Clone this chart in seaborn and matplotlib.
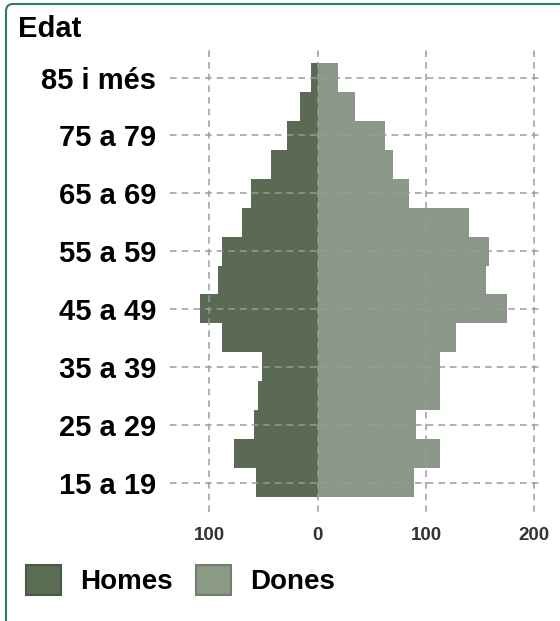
import matplotlib
matplotlib.use("Agg")
import matplotlib.pyplot as plt
from matplotlib.patches import FancyBboxPatch, Patch
import pandas as pd
import seaborn as sns

# Age groups, top of the pyramid first
edats = ["85 i més", "80 a 84", "75 a 79", "70 a 74", "65 a 69", "60 a 64",
         "55 a 59", "50 a 54", "45 a 49", "40 a 44", "35 a 39", "30 a 34",
         "25 a 29", "20 a 24", "15 a 19"]
homes = [6, 16, 28, 43, 61, 70, 88, 92, 108, 88, 51, 55, 59, 77, 57]
dones = [19, 35, 62, 70, 84, 140, 158, 155, 175, 128, 113, 113, 91, 113, 89]
xticks = [-100, 0, 100, 200]
xtick_labels = ["100", "0", "100", "200"]

col_homes = "#5a6d52"
col_dones = "#8a9a85"

df = pd.concat([
    pd.DataFrame({"edat": edats, "valor": [-v for v in homes], "sexe": "Homes"}),
    pd.DataFrame({"edat": edats, "valor": dones, "sexe": "Dones"}),
])

sns.set_style("white")
plt.rcParams["font.family"] = ["Liberation Sans", "DejaVu Sans"]
plt.rcParams["text.color"] = "black"

fig = plt.figure(figsize=(5.6, 6.21), dpi=100)
ax = fig.add_axes([0.3036, 0.1755, 0.6604, 0.7472])

sns.barplot(data=df, y="edat", x="valor", hue="sexe", order=edats,
            palette={"Homes": col_homes, "Dones": col_dones},
            orient="h", dodge=False, width=1.0, linewidth=0,
            legend=False, ax=ax)

ax.set_xlim(-136, 205)
ax.set_ylim(len(edats) - 0.5 + 0.52, -0.5 - 0.52)
ax.set_xticks(xticks)
ax.set_xticklabels(xtick_labels, fontsize=13.5, fontweight="bold", color="#333333")
ax.set_yticks(range(0, len(edats), 2))
ax.set_yticklabels(edats[::2], fontsize=21, fontweight="bold", color="black")
ax.tick_params(axis="y", length=0, pad=10)
ax.tick_params(axis="x", length=0, pad=11)
ax.set_xlabel("")
ax.set_ylabel("")
for s in ax.spines.values():
    s.set_visible(False)

ax.set_axisbelow(False)
ax.grid(True, color="#9a9a9a", linestyle=(0, (4, 3)), linewidth=1.2, alpha=0.9)

fig.text(18 / 560, 1 - 37 / 621, "Edat", fontsize=21, fontweight="bold",
         color="black", va="baseline", ha="left")

handles = [Patch(facecolor=col_homes, edgecolor="#4a5a44", linewidth=1.5),
           Patch(facecolor=col_dones, edgecolor="#6f7f6a", linewidth=1.5)]
leg = fig.legend(handles, ["Homes", "Dones"], ncol=2, loc="center left",
                 bbox_to_anchor=(26 / 560, 1 - 580 / 621), frameon=False,
                 prop={"size": 20, "weight": "bold"}, handlelength=1.25,
                 handleheight=1.3, handletextpad=0.7, columnspacing=0.85,
                 borderpad=0, borderaxespad=0)
for t in leg.get_texts():
    t.set_color("black")

frame = FancyBboxPatch((6 / 560, -0.1), 1.2, 1 - 4 / 621 + 0.1,
                       boxstyle="round,pad=0,rounding_size=0.012",
                       transform=fig.transFigure, fill=False,
                       edgecolor="#2e7d5b", linewidth=1.5, clip_on=False)
fig.patches.append(frame)

fig.savefig("out.png", dpi=100)
